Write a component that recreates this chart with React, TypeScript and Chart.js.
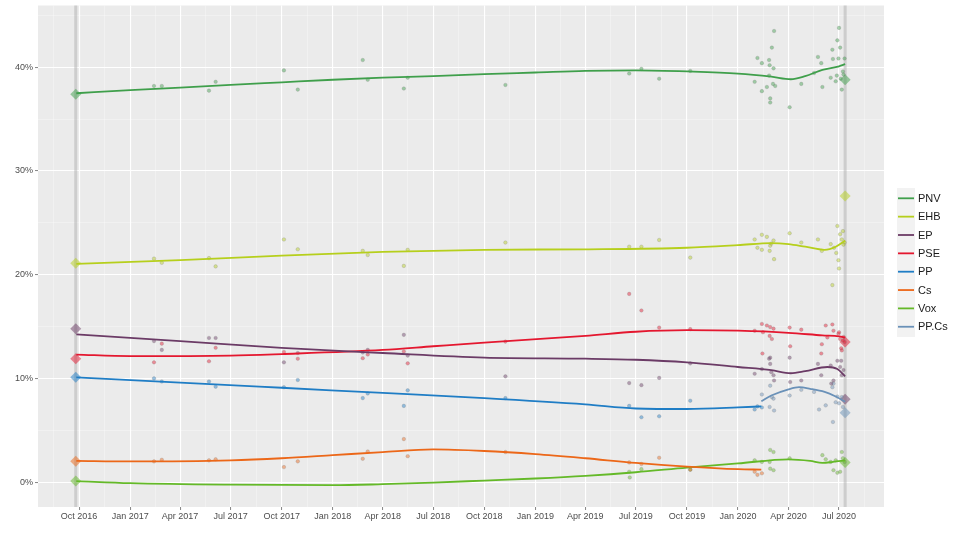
import React, { useEffect, useRef } from "react";
import Chart from "chart.js/auto";

type Row = [string, number];

const parties = ["PNV", "EHB", "EP", "PSE", "PP", "Cs", "Vox", "PP.Cs"];
const partyColors = ["#3f9f4b", "#b6cf1c", "#6b3b66", "#e4172f", "#1f7dc5", "#ec6718", "#64b928", "#6a91b8"];

const electionDates = ["2016-09-25", "2020-07-12"];
const result2016 = [37.4, 21.1, 14.8, 11.9, 10.1, 2.0, 0.1, null];
const result2020 = [38.8, 27.6, 8.0, 13.5, null, null, 1.9, 6.7];

const xTickDates = [
  "2016-10-01", "2017-01-01", "2017-04-01", "2017-07-01", "2017-10-01",
  "2018-01-01", "2018-04-01", "2018-07-01", "2018-10-01", "2019-01-01",
  "2019-04-01", "2019-07-01", "2019-10-01", "2020-01-01", "2020-04-01", "2020-07-01",
];
const xTickLabels = [
  "Oct 2016", "Jan 2017", "Apr 2017", "Jul 2017", "Oct 2017",
  "Jan 2018", "Apr 2018", "Jul 2018", "Oct 2018", "Jan 2019",
  "Apr 2019", "Jul 2019", "Oct 2019", "Jan 2020", "Apr 2020", "Jul 2020",
];
const yTicks = [0, 10, 20, 30, 40];
const yTickLabels = ["0%", "10%", "20%", "30%", "40%"];

// smoothed trends
const pnvTrend: Row[] = [
  ["2016-09-26", 37.5], ["2017-01-01", 37.8], ["2017-04-01", 38.05], ["2017-07-01", 38.3],
  ["2017-10-01", 38.55], ["2018-01-01", 38.8], ["2018-04-01", 39.0], ["2018-07-01", 39.15],
  ["2018-10-01", 39.35], ["2019-01-01", 39.5], ["2019-04-01", 39.65], ["2019-07-01", 39.7],
  ["2019-10-01", 39.6], ["2020-01-01", 39.4], ["2020-03-01", 39.1], ["2020-04-05", 38.85],
  ["2020-05-01", 39.15], ["2020-06-01", 39.75], ["2020-07-01", 40.1], ["2020-07-12", 40.3],
];
const ehbTrend: Row[] = [
  ["2016-09-26", 21.05], ["2017-04-01", 21.4], ["2017-10-01", 21.85], ["2018-04-01", 22.2],
  ["2018-10-01", 22.4], ["2019-04-01", 22.45], ["2019-10-01", 22.6], ["2020-01-01", 22.85],
  ["2020-03-01", 23.05], ["2020-04-01", 22.95], ["2020-05-01", 22.7], ["2020-06-05", 22.4],
  ["2020-06-25", 22.7], ["2020-07-12", 23.3],
];
const epTrend: Row[] = [
  ["2016-09-26", 14.25], ["2017-04-01", 13.6], ["2017-10-01", 12.95], ["2018-04-01", 12.45],
  ["2018-10-01", 12.0], ["2019-04-01", 11.9], ["2019-07-01", 11.8], ["2019-10-01", 11.55],
  ["2020-01-01", 11.1], ["2020-03-01", 10.8], ["2020-04-05", 10.5], ["2020-05-01", 10.7],
  ["2020-06-10", 11.1], ["2020-06-28", 10.9], ["2020-07-12", 10.2],
];
const pseTrend: Row[] = [
  ["2016-09-26", 12.3], ["2017-01-01", 12.15], ["2017-07-01", 12.2], ["2017-10-01", 12.35],
  ["2018-04-01", 12.75], ["2018-07-01", 13.1], ["2018-10-01", 13.45], ["2019-04-01", 14.1],
  ["2019-07-01", 14.5], ["2019-10-01", 14.65], ["2020-01-01", 14.6], ["2020-04-01", 14.4],
  ["2020-06-01", 14.15], ["2020-07-01", 14.05], ["2020-07-12", 13.95],
];
const ppTrend: Row[] = [
  ["2016-09-26", 10.1], ["2017-04-01", 9.6], ["2017-10-01", 9.1], ["2018-04-01", 8.6],
  ["2018-10-01", 8.1], ["2019-04-01", 7.5], ["2019-07-01", 7.1], ["2019-10-01", 7.05],
  ["2020-01-01", 7.2], ["2020-02-12", 7.3],
];
const csTrend: Row[] = [
  ["2016-09-26", 2.05], ["2017-01-01", 2.0], ["2017-07-01", 2.1], ["2017-10-01", 2.3],
  ["2018-01-01", 2.6], ["2018-04-01", 2.9], ["2018-07-01", 3.15], ["2018-10-01", 3.0],
  ["2019-01-01", 2.7], ["2019-04-01", 2.3], ["2019-07-01", 1.85], ["2019-10-01", 1.5],
  ["2020-01-01", 1.25], ["2020-02-12", 1.2],
];
const voxTrend: Row[] = [
  ["2016-09-26", 0.1], ["2017-01-01", -0.1], ["2017-07-01", -0.25], ["2018-01-01", -0.3],
  ["2018-04-01", -0.2], ["2018-07-01", -0.05], ["2018-10-01", 0.15], ["2019-01-01", 0.35],
  ["2019-04-01", 0.6], ["2019-07-01", 0.95], ["2019-10-01", 1.4], ["2020-01-01", 1.8],
  ["2020-04-01", 2.2], ["2020-05-10", 2.05], ["2020-06-01", 1.85], ["2020-06-20", 1.95],
  ["2020-07-12", 2.1],
];
const ppcsTrend: Row[] = [
  ["2020-02-12", 7.8], ["2020-03-01", 8.35], ["2020-04-01", 8.95], ["2020-04-20", 9.15],
  ["2020-05-10", 9.0], ["2020-06-05", 8.7], ["2020-06-25", 8.25], ["2020-07-12", 7.75],
];

// individual polls
const pnvPolls: Row[] = [
  ["2017-02-13", 38.2], ["2017-02-27", 38.2], ["2017-05-23", 37.75], ["2017-06-04", 38.6],
  ["2017-10-05", 39.7], ["2017-10-30", 37.85], ["2018-02-24", 40.7], ["2018-03-05", 38.8],
  ["2018-05-09", 37.95], ["2018-05-16", 39.0], ["2018-11-08", 38.3], ["2019-06-19", 39.4],
  ["2019-07-11", 39.85], ["2019-08-12", 38.9], ["2019-10-07", 39.65],
  ["2020-03-06", 43.5], ["2020-03-02", 41.9], ["2020-02-05", 40.9], ["2020-02-13", 40.4],
  ["2020-02-26", 40.7], ["2020-02-27", 40.2], ["2020-03-05", 39.9], ["2020-02-26", 39.2],
  ["2020-01-31", 38.6], ["2020-02-13", 37.7], ["2020-02-22", 38.1], ["2020-03-04", 38.4],
  ["2020-03-08", 38.2], ["2020-02-28", 37.0], ["2020-02-28", 36.6], ["2020-04-03", 36.15],
  ["2020-04-24", 38.4], ["2020-05-24", 41.0], ["2020-05-30", 40.4], ["2020-05-17", 39.45],
  ["2020-06-01", 38.1], ["2020-06-19", 41.7], ["2020-06-28", 42.6], ["2020-07-01", 43.8],
  ["2020-07-03", 41.9], ["2020-06-20", 40.8], ["2020-06-30", 40.85], ["2020-07-11", 40.85],
  ["2020-07-08", 39.6], ["2020-06-16", 39.0], ["2020-06-25", 38.65], ["2020-07-06", 37.85],
  ["2020-06-27", 39.2], ["2020-07-04", 38.9], ["2020-07-09", 39.3],
];
const ehbPolls: Row[] = [
  ["2017-02-13", 21.55], ["2017-02-27", 21.15], ["2017-05-23", 21.6], ["2017-06-04", 20.8],
  ["2017-10-05", 23.4], ["2017-10-30", 22.45], ["2018-02-24", 22.3], ["2018-03-05", 21.9],
  ["2018-05-09", 20.85], ["2018-05-16", 22.4], ["2018-11-08", 23.1], ["2019-06-19", 22.7],
  ["2019-07-11", 22.7], ["2019-08-12", 23.35], ["2019-10-07", 21.65],
  ["2020-01-31", 23.4], ["2020-02-13", 23.85], ["2020-02-22", 23.65], ["2020-03-05", 23.3],
  ["2020-02-28", 22.8], ["2020-02-05", 22.6], ["2020-02-13", 22.4], ["2020-02-27", 22.3],
  ["2020-03-06", 21.5], ["2020-03-01", 23.0], ["2020-04-03", 24.0], ["2020-04-24", 23.1],
  ["2020-05-24", 23.4], ["2020-05-31", 22.3], ["2020-06-16", 22.95], ["2020-06-28", 24.7],
  ["2020-07-03", 23.9], ["2020-07-08", 24.2], ["2020-06-26", 22.1], ["2020-06-30", 21.4],
  ["2020-07-01", 20.6], ["2020-07-06", 23.4], ["2020-07-11", 23.1], ["2020-06-19", 19.0],
  ["2020-06-22", 22.6], ["2020-07-09", 22.9],
];
const epPolls: Row[] = [
  ["2017-02-13", 13.6], ["2017-02-27", 12.75], ["2017-05-23", 13.9], ["2017-06-04", 13.9],
  ["2017-10-05", 11.55], ["2017-10-30", 12.45], ["2018-02-24", 12.5], ["2018-03-05", 12.75],
  ["2018-05-09", 14.2], ["2018-05-16", 12.2], ["2018-11-08", 10.2], ["2019-06-19", 9.55],
  ["2019-07-11", 9.35], ["2019-08-12", 10.05], ["2019-10-07", 11.45],
  ["2020-01-31", 10.45], ["2020-02-13", 10.9], ["2020-02-26", 11.9], ["2020-02-28", 11.4],
  ["2020-03-01", 10.6], ["2020-03-05", 10.3], ["2020-03-06", 9.8], ["2020-04-03", 12.0],
  ["2020-04-04", 9.65], ["2020-04-24", 9.8], ["2020-05-24", 11.4], ["2020-05-30", 10.3],
  ["2020-06-16", 11.25], ["2020-06-28", 11.7], ["2020-07-03", 11.1], ["2020-07-06", 10.3],
  ["2020-06-21", 9.8], ["2020-06-17", 9.5], ["2020-02-28", 12.0], ["2020-07-05", 11.7],
  ["2020-07-09", 10.8],
];
const psePolls: Row[] = [
  ["2017-02-13", 11.55], ["2017-02-27", 13.35], ["2017-05-23", 11.65], ["2017-06-04", 12.95],
  ["2017-10-05", 12.55], ["2017-10-30", 11.9], ["2018-02-24", 11.95], ["2018-03-05", 12.3],
  ["2018-05-09", 12.6], ["2018-05-16", 11.45], ["2018-11-08", 13.55], ["2019-06-19", 18.15],
  ["2019-07-11", 16.55], ["2019-08-12", 14.9], ["2019-10-07", 14.75],
  ["2020-02-13", 15.25], ["2020-02-22", 15.1], ["2020-02-28", 14.95], ["2020-03-05", 14.8],
  ["2020-01-31", 14.6], ["2020-02-15", 14.45], ["2020-02-27", 14.1], ["2020-03-02", 13.8],
  ["2020-02-14", 12.4], ["2020-04-03", 14.9], ["2020-04-04", 13.1], ["2020-04-24", 14.7],
  ["2020-05-31", 13.3], ["2020-05-30", 12.4], ["2020-06-07", 15.1], ["2020-06-19", 15.2],
  ["2020-06-21", 14.6], ["2020-06-30", 14.3], ["2020-07-03", 13.8], ["2020-07-06", 12.7],
  ["2020-07-08", 13.65], ["2020-07-11", 13.5], ["2020-06-10", 13.95], ["2020-07-01", 14.45],
  ["2020-07-05", 12.9], ["2020-07-09", 14.0],
];
const ppPolls: Row[] = [
  ["2017-02-13", 10.0], ["2017-02-27", 9.7], ["2017-05-23", 9.7], ["2017-06-04", 9.2],
  ["2017-10-05", 9.15], ["2017-10-30", 9.85], ["2018-02-24", 8.1], ["2018-03-05", 8.55],
  ["2018-05-09", 7.35], ["2018-05-16", 8.85], ["2018-11-08", 8.1], ["2019-06-19", 7.35],
  ["2019-07-11", 6.25], ["2019-08-12", 6.35], ["2019-10-07", 7.85],
  ["2020-01-31", 7.0], ["2020-02-05", 7.3], ["2020-02-13", 7.2],
];
const csPolls: Row[] = [
  ["2017-02-13", 2.0], ["2017-02-27", 2.15], ["2017-05-23", 2.1], ["2017-06-04", 2.2],
  ["2017-10-05", 1.45], ["2017-10-30", 2.0], ["2018-02-24", 2.25], ["2018-03-05", 2.95],
  ["2018-05-09", 4.15], ["2018-05-16", 2.5], ["2018-11-08", 2.9], ["2019-06-19", 1.9],
  ["2019-07-11", 1.75], ["2019-08-12", 2.35], ["2019-10-07", 1.2],
  ["2020-01-31", 1.0], ["2020-02-05", 0.7], ["2020-02-13", 0.85],
];
const voxPolls: Row[] = [
  ["2019-06-19", 1.0], ["2019-06-20", 0.45], ["2019-07-11", 1.25], ["2019-10-07", 1.2],
  ["2020-01-31", 2.1], ["2020-02-13", 1.95], ["2020-02-28", 3.1], ["2020-03-05", 2.9],
  ["2020-02-27", 1.95], ["2020-02-28", 1.3], ["2020-03-05", 1.15], ["2020-04-03", 2.3],
  ["2020-06-01", 2.6], ["2020-06-07", 2.2], ["2020-06-21", 1.15], ["2020-06-28", 0.9],
  ["2020-07-03", 1.0], ["2020-07-06", 2.9], ["2020-07-11", 1.95], ["2020-06-16", 1.95],
  ["2020-07-08", 2.3], ["2020-06-25", 2.1],
];
const ppcsPolls: Row[] = [
  ["2020-02-13", 8.45], ["2020-02-28", 9.3], ["2020-03-02", 8.2], ["2020-03-05", 8.05],
  ["2020-02-27", 7.25], ["2020-03-06", 6.9], ["2020-04-03", 8.35], ["2020-04-24", 8.9],
  ["2020-05-17", 8.7], ["2020-05-26", 7.0], ["2020-06-07", 7.4], ["2020-06-19", 9.15],
  ["2020-06-21", 9.5], ["2020-06-25", 7.7], ["2020-07-01", 7.6], ["2020-06-20", 5.8],
  ["2020-07-08", 7.25], ["2020-07-06", 8.2], ["2020-06-28", 8.25],
];

const trends = [pnvTrend, ehbTrend, epTrend, pseTrend, ppTrend, csTrend, voxTrend, ppcsTrend];
const polls = [pnvPolls, ehbPolls, epPolls, psePolls, ppPolls, csPolls, voxPolls, ppcsPolls];

const ts = (d: string) => Date.parse(d + "T00:00:00Z");
const toXY = (rows: Row[]) => rows.map(([d, v]) => ({ x: ts(d), y: v }));
const rgba = (hex: string, a: number) => {
  const n = parseInt(hex.slice(1), 16);
  return `rgba(${(n >> 16) & 255},${(n >> 8) & 255},${n & 255},${a})`;
};

const FONT = "'Liberation Sans', Arial, sans-serif";

const App: React.FC = () => {
  const chartRef = useRef<HTMLCanvasElement>(null);
  const chartInstance = useRef<Chart | null>(null);

  useEffect(() => {
    document.body.style.margin = "0";
    if (!chartRef.current) return;
    const ctx = chartRef.current.getContext("2d");
    if (!ctx) return;

    const majorX = xTickDates.map(ts);
    const xLabelMap = new Map(majorX.map((v, i) => [v, xTickLabels[i]]));
    // minor breaks halfway between quarters (ggplot style)
    const edges = [ts("2016-07-01"), ...majorX, ts("2020-10-01")];
    const minorX: number[] = [];
    for (let i = 0; i < edges.length - 1; i++) minorX.push((edges[i] + edges[i + 1]) / 2);
    const xMin = ts("2016-07-19");
    const xMax = ts("2020-09-20");
    const allX = [...majorX, ...minorX].filter((v) => v > xMin && v < xMax).sort((a, b) => a - b);
    const majorXSet = new Set(majorX);

    const yMinor = yTicks.map((v) => v + 5);
    const allY = [...yTicks, ...yMinor].sort((a, b) => a - b);
    const yLabelMap = new Map(yTicks.map((v, i) => [v, yTickLabels[i]]));

    const datasets: any[] = [];
    parties.forEach((p, i) => {
      datasets.push({
        label: p,
        data: toXY(trends[i]),
        showLine: true,
        borderColor: partyColors[i],
        borderWidth: 1.8,
        pointRadius: 0,
        cubicInterpolationMode: "monotone",
        fill: false,
        order: 0,
      });
    });
    parties.forEach((p, i) => {
      datasets.push({
        label: p + " polls",
        data: toXY(polls[i]),
        backgroundColor: rgba(partyColors[i], 0.45),
        borderColor: "rgba(110,110,110,0.35)",
        borderWidth: 0.6,
        pointRadius: 1.8,
        order: 1,
      });
    });
    parties.forEach((p, i) => {
      const pts: { x: number; y: number }[] = [];
      if (result2016[i] !== null) pts.push({ x: ts(electionDates[0]), y: result2016[i] as number });
      if (result2020[i] !== null) pts.push({ x: ts(electionDates[1]), y: result2020[i] as number });
      datasets.push({
        label: p + " result",
        data: pts,
        pointStyle: "rectRot",
        pointRadius: 5.5,
        backgroundColor: rgba(partyColors[i], 0.5),
        borderWidth: 0,
        order: 2,
      });
    });

    const panelPlugin = {
      id: "panel",
      beforeDraw(chart: Chart) {
        const { ctx: c, chartArea: a } = chart;
        c.save();
        c.fillStyle = "#ffffff";
        c.fillRect(0, 0, chart.width, chart.height);
        c.fillStyle = "#EBEBEB";
        c.fillRect(a.left, a.top, a.right - a.left, a.bottom - a.top);
        c.restore();
      },
      beforeDatasetsDraw(chart: Chart) {
        const { ctx: c, chartArea: a } = chart;
        const xs = chart.scales.x;
        c.save();
        c.strokeStyle = "rgba(175,175,175,0.5)";
        c.lineWidth = 3;
        electionDates.forEach((d) => {
          const px = xs.getPixelForValue(ts(d));
          c.beginPath();
          c.moveTo(px, a.top);
          c.lineTo(px, a.bottom);
          c.stroke();
        });
        c.restore();
      },
      afterDraw(chart: Chart) {
        const c = chart.ctx;
        c.save();
        c.fillStyle = "#F2F2F2";
        c.fillRect(897, 188, 18, 149);
        c.font = `11px ${FONT}`;
        c.textBaseline = "middle";
        c.fillStyle = "#1a1a1a";
        parties.forEach((p, i) => {
          const y = 198.3 + i * 18.35;
          c.strokeStyle = partyColors[i];
          c.lineWidth = 1.8;
          c.beginPath();
          c.moveTo(898, y);
          c.lineTo(914, y);
          c.stroke();
          c.fillText(p, 918, y + 0.5);
        });
        c.restore();
      },
    };

    chartInstance.current = new Chart(ctx, {
      type: "scatter",
      data: { datasets },
      options: {
        animation: false,
        responsive: true,
        maintainAspectRatio: false,
        layout: { padding: { top: 4, right: 76, left: 0, bottom: 0 } },
        plugins: { legend: { display: false }, tooltip: { enabled: false } },
        scales: {
          x: {
            type: "linear",
            min: xMin,
            max: xMax,
            afterBuildTicks: (s: any) => {
              s.ticks = allX.map((v) => ({ value: v }));
            },
            afterFit: (s: any) => {
              s.height = 27;
              s.paddingLeft = 0;
              s.paddingRight = 0;
            },
            ticks: {
              autoSkip: false,
              maxRotation: 0,
              padding: 1,
              color: "#4d4d4d",
              font: { family: FONT, size: 9 },
              callback: (v: any) => xLabelMap.get(Number(v)) ?? "",
            },
            grid: {
              color: (c: any) => (majorXSet.has(c.tick?.value) ? "#ffffff" : "rgba(255,255,255,0.6)"),
              lineWidth: (c: any) => (majorXSet.has(c.tick?.value) ? 1.1 : 0.55),
              tickColor: (c: any) => (majorXSet.has(c.tick?.value) ? "#333333" : "rgba(0,0,0,0)"),
              tickLength: 3,
              tickWidth: 0.6,
            },
            border: { display: false },
          },
          y: {
            min: -2.4,
            max: 45.96,
            afterBuildTicks: (s: any) => {
              s.ticks = allY.map((v) => ({ value: v }));
            },
            afterFit: (s: any) => {
              s.width = 38;
              s.paddingTop = 0;
              s.paddingBottom = 0;
            },
            ticks: {
              padding: 2,
              color: "#4d4d4d",
              font: { family: FONT, size: 9 },
              callback: (v: any) => yLabelMap.get(Number(v)) ?? "",
            },
            grid: {
              color: (c: any) => (yLabelMap.has(c.tick?.value) ? "#ffffff" : "rgba(255,255,255,0.6)"),
              lineWidth: (c: any) => (yLabelMap.has(c.tick?.value) ? 1.1 : 0.55),
              tickColor: (c: any) => (yLabelMap.has(c.tick?.value) ? "#333333" : "rgba(0,0,0,0)"),
              tickLength: 3,
              tickWidth: 0.6,
            },
            border: { display: false },
          },
        },
      },
      plugins: [panelPlugin],
    });

    return () => {
      if (chartInstance.current) {
        chartInstance.current.destroy();
        chartInstance.current = null;
      }
    };
  }, []);

  return (
    <div style={{ position: "relative", width: 960, height: 534 }}>
      <canvas ref={chartRef} />
    </div>
  );
};

export default App;
